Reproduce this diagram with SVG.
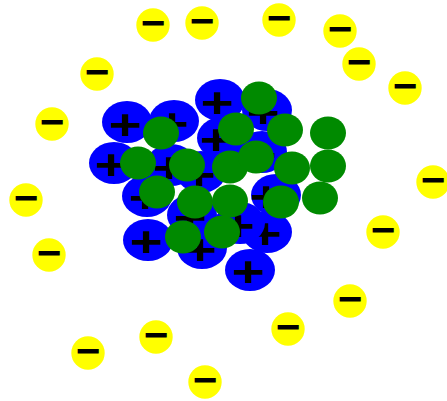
<svg xmlns="http://www.w3.org/2000/svg" width="447" height="401" viewBox="0 0 447 401">
<style>
.e{fill:#ffff00}
.p{fill:#0000ff}
.n{fill:#008a00}
.m{font-family:"Liberation Sans",Arial,sans-serif;font-weight:bold;font-size:42px;text-anchor:middle;fill:#000}
</style>
<rect width="447" height="401" fill="#fff"/>
<g id="electrons">
<g id="e1"><circle class="e" cx="153" cy="25" r="16.7"/><text class="m" x="153" y="37">−</text></g>
<g id="e2"><circle class="e" cx="202" cy="23" r="16.7"/><text class="m" x="202" y="35">−</text></g>
<g id="e3"><circle class="e" cx="279" cy="20" r="16.7"/><text class="m" x="279" y="32">−</text></g>
<g id="e4"><circle class="e" cx="340" cy="31" r="16.7"/><text class="m" x="340" y="43">−</text></g>
<g id="e5"><circle class="e" cx="359" cy="64" r="16.7"/><text class="m" x="359" y="76">−</text></g>
<g id="e6"><circle class="e" cx="405" cy="88" r="16.7"/><text class="m" x="405" y="100">−</text></g>
<g id="e7"><circle class="e" cx="97" cy="74" r="16.7"/><text class="m" x="97" y="86">−</text></g>
<g id="e8"><circle class="e" cx="52" cy="124" r="16.7"/><text class="m" x="52" y="136">−</text></g>
<g id="e9"><circle class="e" cx="433" cy="182" r="16.7"/><text class="m" x="433" y="194">−</text></g>
<g id="e10"><circle class="e" cx="26" cy="200" r="16.7"/><text class="m" x="26" y="212">−</text></g>
<g id="e11"><circle class="e" cx="383" cy="232" r="16.7"/><text class="m" x="383" y="244">−</text></g>
<g id="e12"><circle class="e" cx="49" cy="255" r="16.7"/><text class="m" x="49" y="267">−</text></g>
<g id="e13"><circle class="e" cx="350" cy="301" r="16.7"/><text class="m" x="350" y="313">−</text></g>
<g id="e14"><circle class="e" cx="156" cy="337" r="16.7"/><text class="m" x="156" y="349">−</text></g>
<g id="e15"><circle class="e" cx="288" cy="329" r="16.7"/><text class="m" x="288" y="341">−</text></g>
<g id="e16"><circle class="e" cx="88" cy="353" r="16.7"/><text class="m" x="88" y="365">−</text></g>
<g id="e17"><circle class="e" cx="205" cy="382" r="16.7"/><text class="m" x="205" y="394">−</text></g>
</g>
<g id="protons">
<g id="p1"><ellipse class="p" cx="127" cy="122" rx="25" ry="21"/><text class="m" transform="translate(125,125) scale(1.35,1)" y="14">+</text></g>
<g id="p2"><ellipse class="p" cx="174" cy="121" rx="25" ry="21"/><text class="m" transform="translate(172,124) scale(1.35,1)" y="14">+</text></g>
<g id="p3"><ellipse class="p" cx="220" cy="100" rx="25" ry="21"/><text class="m" transform="translate(217,103) scale(1.35,1)" y="14">+</text></g>
<g id="p4"><ellipse class="p" cx="267" cy="110" rx="25" ry="21"/><text class="m" transform="translate(263,113) scale(1.35,1)" y="14">+</text></g>
<g id="p5"><ellipse class="p" cx="114" cy="163" rx="25" ry="21"/><text class="m" transform="translate(111,165) scale(1.35,1)" y="14">+</text></g>
<g id="p6"><ellipse class="p" cx="171" cy="165" rx="25" ry="21"/><text class="m" transform="translate(169,168) scale(1.35,1)" y="14">+</text></g>
<g id="p7"><ellipse class="p" cx="222" cy="138" rx="25" ry="21"/><text class="m" transform="translate(216,140) scale(1.35,1)" y="14">+</text></g>
<g id="p8"><ellipse class="p" cx="262" cy="152" rx="25" ry="21"/><text class="m" transform="translate(260,155) scale(1.35,1)" y="14">+</text></g>
<g id="p9"><ellipse class="p" cx="201" cy="172" rx="25" ry="21"/><text class="m" transform="translate(199,175) scale(1.35,1)" y="14">+</text></g>
<g id="p10"><ellipse class="p" cx="147" cy="196" rx="25" ry="21"/><text class="m" transform="translate(145,198) scale(1.35,1)" y="14">+</text></g>
<g id="p11"><ellipse class="p" cx="276" cy="195" rx="25" ry="21"/><text class="m" transform="translate(266,197) scale(1.35,1)" y="14">+</text></g>
<g id="p12"><ellipse class="p" cx="192" cy="215" rx="25" ry="21"/><text class="m" transform="translate(190,218) scale(1.35,1)" y="14">+</text></g>
<g id="p13"><ellipse class="p" cx="267" cy="232" rx="25" ry="21"/><text class="m" transform="translate(265,234) scale(1.35,1)" y="14">+</text></g>
<g id="p14"><ellipse class="p" cx="240" cy="223" rx="25" ry="21"/><text class="m" transform="translate(238,226) scale(1.35,1)" y="14">+</text></g>
<g id="p15"><ellipse class="p" cx="148" cy="240" rx="25" ry="21"/><text class="m" transform="translate(146,242) scale(1.35,1)" y="14">+</text></g>
<g id="p16"><ellipse class="p" cx="202" cy="248" rx="25" ry="21"/><text class="m" transform="translate(200,250) scale(1.35,1)" y="14">+</text></g>
<g id="p17"><ellipse class="p" cx="250" cy="270" rx="25" ry="21"/><text class="m" transform="translate(248,272) scale(1.35,1)" y="14">+</text></g>
</g>
<g id="neutrons">
<ellipse id="n1" class="n" cx="259" cy="98" rx="18" ry="16.5"/>
<ellipse id="n2" class="n" cx="161" cy="133" rx="18" ry="16.5"/>
<ellipse id="n3" class="n" cx="236" cy="129" rx="18" ry="16.5"/>
<ellipse id="n4" class="n" cx="285" cy="130" rx="18" ry="16.5"/>
<ellipse id="n5" class="n" cx="328" cy="133" rx="18" ry="16.5"/>
<ellipse id="n6" class="n" cx="138" cy="163" rx="18" ry="16.5"/>
<ellipse id="n7" class="n" cx="187" cy="165" rx="18" ry="16.5"/>
<ellipse id="n8" class="n" cx="230" cy="167" rx="18" ry="16.5"/>
<ellipse id="n9" class="n" cx="256" cy="157" rx="18" ry="16.5"/>
<ellipse id="n10" class="n" cx="292" cy="168" rx="18" ry="16.5"/>
<ellipse id="n11" class="n" cx="328" cy="166" rx="18" ry="16.5"/>
<ellipse id="n12" class="n" cx="157" cy="192" rx="18" ry="16.5"/>
<ellipse id="n13" class="n" cx="195" cy="202" rx="18" ry="16.5"/>
<ellipse id="n14" class="n" cx="230" cy="201" rx="18" ry="16.5"/>
<ellipse id="n15" class="n" cx="281" cy="202" rx="18" ry="16.5"/>
<ellipse id="n16" class="n" cx="320" cy="198" rx="18" ry="16.5"/>
<ellipse id="n17" class="n" cx="183" cy="237" rx="18" ry="16.5"/>
<ellipse id="n18" class="n" cx="222" cy="232" rx="18" ry="16.5"/>
</g>
</svg>
